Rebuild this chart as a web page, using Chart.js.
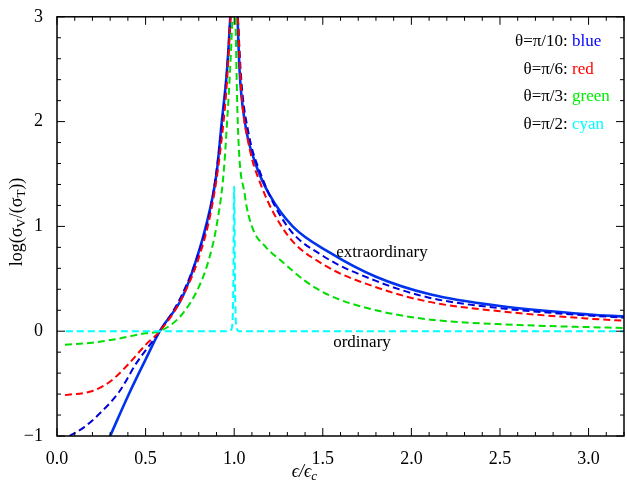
<!DOCTYPE html>
<html><head><meta charset="utf-8">
<script src="https://cdn.jsdelivr.net/npm/chart.js@4"></script>
<style>html,body{margin:0;background:#fff}#w{width:627px;height:491px}</style>
</head><body><div id="w"><canvas id="c"></canvas></div>
<script>
const blueSolidX=[0.3,0.4,0.5,0.58,0.7,0.76,0.84,0.9,0.93,0.96,0.985,null,1.015,1.03,1.06,1.12,1.2,1.33,1.54,1.8,2.11,2.5,3.0,3.2];
const blueSolidY=[-1,-0.62,-0.27,0,0.3,0.55,1.0,1.5,2.0,2.5,3.2,null,3.2,2.5,2.0,1.6,1.3,1.0,0.75,0.52,0.35,0.24,0.16,0.14];
const blueDashX=[0.07,0.15,0.25,0.35,0.45,0.58,0.7,0.8,0.87,0.92,0.96,0.985,null,1.015,1.04,1.08,1.15,1.3,1.5,1.8,2.1,2.5,3.0,3.2];
const blueDashY=[-1,-0.92,-0.77,-0.58,-0.3,0,0.33,0.75,1.2,1.8,2.5,3.2,null,3.2,2.4,1.9,1.5,1.0,0.72,0.48,0.32,0.22,0.15,0.13];
const redX=[0.045,0.2,0.3,0.4,0.5,0.58,0.7,0.8,0.87,0.92,0.96,0.985,null,1.015,1.04,1.08,1.15,1.3,1.5,1.8,2.1,2.5,3.0,3.2];
const redY=[-0.61,-0.57,-0.48,-0.32,-0.13,0,0.3,0.7,1.15,1.7,2.4,3.2,null,3.2,2.3,1.8,1.4,0.92,0.64,0.42,0.28,0.19,0.12,0.1];
const greenX=[0.045,0.2,0.35,0.5,0.58,0.7,0.8,0.86,0.9,0.94,0.96,0.98,0.995,null,1.005,1.02,1.06,1.1,1.18,1.26,1.4,1.54,1.8,2.11,2.6,3.2];
const greenY=[-0.13,-0.11,-0.07,-0.02,0,0.15,0.42,0.7,1.0,1.5,2.0,2.6,3.2,null,3.2,2.0,1.3,1.0,0.8,0.68,0.48,0.34,0.2,0.11,0.06,0.03];
const cyanX=[0.05,0.5,0.97,0.985,0.995,1.0,1.005,1.015,1.03,2.0,3.2];
const cyanY=[0,0,0,0.02,0.4,1.38,0.4,0.02,0,0,0];
const xTicks=[0,0.5,1,1.5,2,2.5,3];
const yTicks=[-1,0,1,2,3];
const legendRows=[["θ=π/10: ","blue","#0000ff"],["θ=π/6: ","red","#ff0000"],["θ=π/3: ","green","#00ee00"],["θ=π/2: ","cyan","#00ffff"]];
const pts=(xs,ys)=>xs.map((x,i)=>x===null?{x:NaN,y:null}:{x:x,y:ys[i]});
const SERIF='"Liberation Serif","DejaVu Serif",serif';
function ds(xs,ys,color,dash,w){return{data:pts(xs,ys),borderColor:color,borderWidth:w,borderDash:dash,pointRadius:0,tension:0.4,cubicInterpolationMode:'monotone',spanGaps:false,fill:false};}
const deco={id:'deco',afterDraw(ch){
  const c=ch.ctx,a=ch.chartArea,xs=ch.scales.x,ys=ch.scales.y;
  c.save();c.strokeStyle='#000';c.lineWidth=1.5;c.strokeRect(a.left,a.top,a.right-a.left,a.bottom-a.top);
  c.lineWidth=1;
  for(let i=0;i<=32;i++){const v=i/10,p=xs.getPixelForValue(v),L=(i%5===0)?8:4;
    c.beginPath();c.moveTo(p,a.bottom);c.lineTo(p,a.bottom-L);c.moveTo(p,a.top);c.lineTo(p,a.top+L);c.stroke();}
  for(let i=-5;i<=15;i++){const v=i/5,p=ys.getPixelForValue(v),L=(i%5===0)?8:4;
    c.beginPath();c.moveTo(a.left,p);c.lineTo(a.left+L,p);c.moveTo(a.right,p);c.lineTo(a.right-L,p);c.stroke();}
  c.fillStyle='#000';c.font='17px '+SERIF;c.textBaseline='middle';
  legendRows.forEach((r,i)=>{const y=42+i*27.5;c.textAlign='right';c.fillStyle='#000';c.fillText(r[0],572,y);
    c.textAlign='left';c.fillStyle=r[2];c.fillText(r[1],572,y);});
  c.fillStyle='#000';c.textAlign='center';
  c.fillText('extraordinary',382,253);c.fillText('ordinary',362,343);
  // x title
  c.font='italic 18px '+SERIF;c.textAlign='left';
  const t1='ϵ/ϵ';const w1=c.measureText(t1).width;const x0=305-(w1+7)/2;
  c.fillText(t1,x0,472);c.font='italic 13px '+SERIF;c.fillText('c',x0+w1,477);
  // y title
  c.translate(17,222);c.rotate(-Math.PI/2);c.font='18px '+SERIF;
  const parts=[['log(σ',18,0],['V',13,5],['/(σ',18,0],['T',13,5],['))',18,0]];
  let tw=0;parts.forEach(p=>{c.font=p[1]+'px '+SERIF;tw+=c.measureText(p[0]).width;});
  let x=-tw/2;parts.forEach(p=>{c.font=p[1]+'px '+SERIF;c.fillText(p[0],x,p[2]);x+=c.measureText(p[0]).width;});
  c.restore();}};
new Chart(document.getElementById('c'),{type:'line',
  data:{datasets:[ds(cyanX,cyanY,'#00ffff',[7,4],2),ds(greenX,greenY,'#00dd00',[7,4],2),ds(redX,redY,'#ff0000',[7,4],2),ds(blueDashX,blueDashY,'#0000dd',[7,4],2),ds(blueSolidX,blueSolidY,'#0033ee',[],2.6)]},
  plugins:[deco],
  options:{responsive:true,maintainAspectRatio:false,animation:false,layout:{padding:{top:10,right:3,left:0,bottom:0}},
    plugins:{legend:{display:false},tooltip:{enabled:false}},
    scales:{
      x:{type:'linear',min:0,max:3.2,afterBuildTicks:s=>{s.ticks=xTicks.map(v=>({value:v}));},afterFit:s=>{s.height=55;},
        grid:{display:false},border:{display:false},ticks:{color:'#000',font:{family:SERIF,size:18},padding:4,callback:v=>v.toFixed(1),maxRotation:0}},
      y:{min:-1,max:3,afterBuildTicks:s=>{s.ticks=yTicks.map(v=>({value:v}));},afterFit:s=>{s.width=57;},
        grid:{display:false},border:{display:false},ticks:{color:'#000',font:{family:SERIF,size:18},padding:6,callback:v=>v<0?'−'+Math.abs(v):String(v)}}}}});
</script></body></html>
